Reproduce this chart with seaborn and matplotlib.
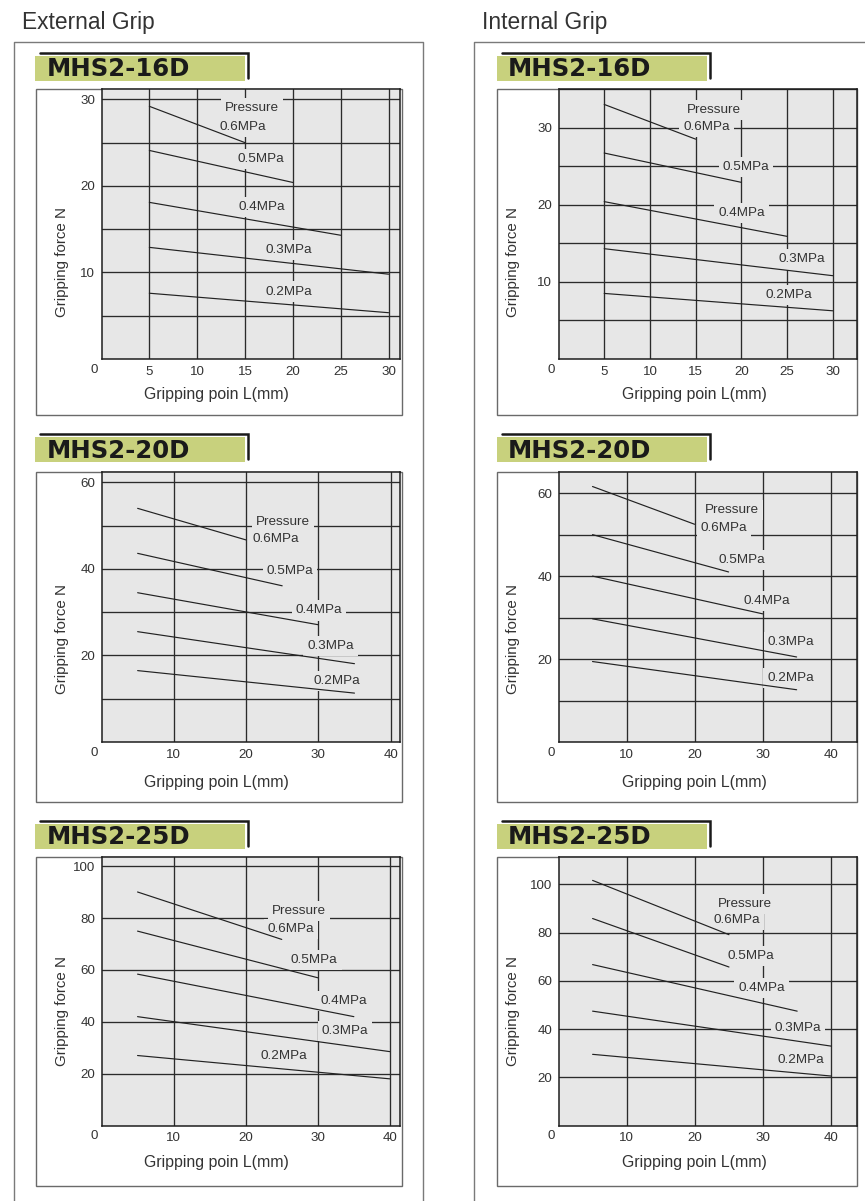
import matplotlib
matplotlib.use("Agg")
import matplotlib.pyplot as plt
from matplotlib.patches import Rectangle
from matplotlib.lines import Line2D
from matplotlib.ticker import FixedLocator
import pandas as pd
import seaborn as sns

sns.set_style("white")
plt.rcParams["font.family"] = ["Liberation Sans", "DejaVu Sans"]

# ---------------------------------------------------------------- data
pressures = ["0.6MPa", "0.5MPa", "0.4MPa", "0.3MPa", "0.2MPa"]
grip_start = 5  # every curve starts at L = 5 mm

# MHS2-16D
ext16_x_end = [15, 20, 25, 30, 30]
ext16_f_start = [29.2, 24.1, 18.1, 12.9, 7.6]
ext16_f_end = [25.0, 20.4, 14.3, 9.8, 5.35]
int16_x_end = [15, 20, 25, 30, 30]
int16_f_start = [33.0, 26.7, 20.4, 14.3, 8.5]
int16_f_end = [28.5, 22.9, 15.9, 10.8, 6.25]

# MHS2-20D
ext20_x_end = [20, 25, 30, 35, 35]
ext20_f_start = [54.0, 43.6, 34.5, 25.5, 16.5]
ext20_f_end = [46.7, 36.1, 27.1, 18.1, 11.3]
int20_x_end = [20, 25, 30, 35, 35]
int20_f_start = [61.6, 50.0, 40.0, 29.7, 19.4]
int20_f_end = [52.5, 41.0, 30.9, 20.5, 12.6]

# MHS2-25D
ext25_x_end = [25, 30, 35, 40, 40]
ext25_f_start = [90.1, 75.0, 58.4, 42.0, 27.0]
ext25_f_end = [71.8, 57.0, 42.0, 28.5, 18.0]
int25_x_end = [25, 25, 35, 40, 40]
int25_f_start = [101.6, 85.8, 66.7, 47.4, 29.5]
int25_f_end = [79.1, 65.7, 47.4, 32.9, 20.5]

models = ["MHS2-16D", "MHS2-20D", "MHS2-25D"]
grips = ["External Grip", "Internal Grip"]

x_ticks_16 = [5, 10, 15, 20, 25, 30]
x_ticks_20 = [10, 20, 30, 40]
x_ticks_25 = [10, 20, 30, 40]
y_ticks_16 = [10, 20, 30]
y_ticks_20 = [20, 40, 60]
y_ticks_25 = [20, 40, 60, 80, 100]

# ---------------------------------------------------------------- layout (pixels)
W, H = 865, 1201
fig = plt.figure(figsize=(W / 100, H / 100), dpi=100)
fig.patch.set_facecolor("white")


def fx(x):
    return x / W


def fy(y):
    return 1 - y / H


GREEN = "#c8d17d"
PANEL_BG = "#e7e7e7"
INK = "#222222"
TXT = "#333333"

col_frame_x = [(36, 402), (497, 857)]
col_axes_x = [(101.5, 400), (558.5, 856.5)]
col_badge = [dict(g0=35, g1=245, l0=40, l1=248, tx=47),
             dict(g0=497, g1=707, l0=502, l1=709.5, tx=507.5)]
col_ylabel_x = [62, 513]
col_xlabel_x = [216, 694]
row_badge_top = [53, 434, 821]
row_frame_y = [(89, 415), (472, 802), (857, 1186)]
row_axes_bottom = [359, 742, 1125.5]
row_ylabel_y = [262, 639, 1011]
row_xlabel_y = [395, 783, 1162]

panels = {
    (0, 0): dict(x_end=ext16_x_end, f0=ext16_f_start, f1=ext16_f_end, xlim=31.2, ylim=31.2,
                 xt=x_ticks_16, yt=y_ticks_16, ystep=5,
                 lab=[(15.7, 29.0), (14.8, 26.8), (16.6, 23.1), (16.8, 17.6), (19.6, 12.6), (19.6, 7.8)]),
    (0, 1): dict(x_end=int16_x_end, f0=int16_f_start, f1=int16_f_end, xlim=32.6, ylim=35.0,
                 xt=x_ticks_16, yt=y_ticks_16, ystep=5,
                 lab=[(17.0, 32.3), (16.2, 30.05), (20.5, 24.9), (20.0, 18.9), (26.6, 12.9), (25.2, 8.3)]),
    (1, 0): dict(x_end=ext20_x_end, f0=ext20_f_start, f1=ext20_f_end, xlim=41.3, ylim=62.4,
                 xt=x_ticks_20, yt=y_ticks_20, ystep=10,
                 lab=[(25.1, 50.9), (24.1, 47.0), (26.1, 39.6), (30.1, 30.4), (31.7, 22.1), (32.6, 14.2)]),
    (1, 1): dict(x_end=int20_x_end, f0=int20_f_start, f1=int20_f_end, xlim=43.8, ylim=65.1,
                 xt=x_ticks_20, yt=y_ticks_20, ystep=10,
                 lab=[(25.5, 55.9), (24.3, 51.5), (26.9, 43.8), (30.6, 34.1), (34.2, 24.0), (34.1, 15.5)]),
    (2, 0): dict(x_end=ext25_x_end, f0=ext25_f_start, f1=ext25_f_end, xlim=41.4, ylim=103.6,
                 xt=x_ticks_25, yt=y_ticks_25, ystep=20,
                 lab=[(27.4, 82.8), (26.3, 75.7), (29.5, 63.8), (33.6, 48.0), (33.75, 36.5), (25.3, 27.0)]),
    (2, 1): dict(x_end=int25_x_end, f0=int25_f_start, f1=int25_f_end, xlim=43.7, ylim=111.3,
                 xt=x_ticks_25, yt=y_ticks_25, ystep=20,
                 lab=[(27.3, 92.0), (26.2, 85.1), (28.2, 70.1), (29.8, 57.0), (35.1, 40.4), (35.5, 27.0)]),
}

# ---------------------------------------------------------------- column boxes and headings
for c, (x_left, x_right) in enumerate([(14, 423), (474, 880)]):
    fig.add_artist(Line2D([fx(x_left), fx(x_left), fx(x_right), fx(x_right)],
                          [fy(H + 2), fy(42), fy(42), fy(H + 2)],
                          color="#7a7a7a", lw=1.0, transform=fig.transFigure))
    fig.text(fx([22, 481.5][c]), fy(29), grips[c], fontsize=16.4, color=TXT,
             va="baseline", ha="left")


def curves_frame(x_end, f_start, f_end):
    rows = []
    for p, xe, fs, fe in zip(pressures, x_end, f_start, f_end):
        rows.append({"pressure": p, "L": grip_start, "force": fs})
        rows.append({"pressure": p, "L": xe, "force": fe})
    return pd.DataFrame(rows)


for (r, c), spec in panels.items():
    fx0, fx1 = col_frame_x[c]
    fy0, fy1 = row_frame_y[r]
    # white chart frame
    fig.add_artist(Rectangle((fx(fx0), fy(fy1)), (fx1 - fx0) / W, (fy1 - fy0) / H,
                             transform=fig.transFigure, facecolor="white",
                             edgecolor="#6a6a6a", lw=1.0, zorder=0))
    # model badge
    b = col_badge[c]
    top = row_badge_top[r]
    fig.add_artist(Rectangle((fx(b["g0"]), fy(top + 28)), (b["g1"] - b["g0"]) / W, 25 / H,
                             transform=fig.transFigure, facecolor=GREEN, edgecolor="none",
                             zorder=0))
    fig.add_artist(Line2D([fx(b["l0"]), fx(b["l1"]), fx(b["l1"])],
                          [fy(top), fy(top), fy(top + 25)],
                          color="#1a1a1a", lw=1.8, transform=fig.transFigure,
                          solid_joinstyle="miter"))
    fig.text(fx(b["tx"]), fy(top + 23.5), models[r], fontsize=17.6, fontweight="bold",
             family="DejaVu Sans", color="#1a1a1a", va="baseline", ha="left")

    # plotting area
    ax0, ax1 = col_axes_x[c]
    ay0, ay1 = fy0, row_axes_bottom[r]
    ax = fig.add_axes([fx(ax0), fy(ay1), (ax1 - ax0) / W, (ay1 - ay0) / H])
    ax.set_facecolor(PANEL_BG)
    ax.set_axisbelow(True)

    df = curves_frame(spec["x_end"], spec["f0"], spec["f1"])
    sns.lineplot(data=df, x="L", y="force", hue="pressure", palette=[INK] * len(pressures),
                 legend=False, ax=ax, lw=0.85, estimator=None, zorder=3)

    ax.set_xlim(0, spec["xlim"])
    ax.set_ylim(0, spec["ylim"])
    ax.xaxis.set_major_locator(FixedLocator(spec["xt"]))
    ax.set_xticklabels([str(v) for v in spec["xt"]])
    ax.yaxis.set_major_locator(FixedLocator(spec["yt"]))
    ax.set_yticklabels([str(v) for v in spec["yt"]])
    step = spec["ystep"]
    minor_y = [v for v in range(step, int(spec["ylim"]) + 1, step) if v not in spec["yt"]]
    ax.yaxis.set_minor_locator(FixedLocator(minor_y))
    ax.grid(True, which="both", color="#2b2b2b", lw=0.95)
    ax.tick_params(axis="both", which="both", length=0, labelsize=9.6, colors=TXT)
    ax.tick_params(axis="x", pad=4.8)
    ax.tick_params(axis="y", pad=4.6)
    for s in ax.spines.values():
        s.set_color("#1e1e1e")
        s.set_linewidth(1.1)
        s.set_visible(True)

    ax.annotate("0", xy=(0, 0), xycoords="data", xytext=(-5.4, -7.9), textcoords="offset points",
                ha="center", va="center", fontsize=9.6, color=TXT, annotation_clip=False)

    ax.set_xlabel("Gripping poin L(mm)", fontsize=11.4, color=TXT)
    ax.set_ylabel("Gripping force N", fontsize=10.9, color=TXT)
    ax.xaxis.set_label_coords(fx(col_xlabel_x[c]), fy(row_xlabel_y[r]), transform=fig.transFigure)
    ax.xaxis.label.set_va("center")
    ax.yaxis.set_label_coords(fx(col_ylabel_x[c]), fy(row_ylabel_y[r]), transform=fig.transFigure)
    ax.yaxis.label.set_va("center")

    box = dict(boxstyle="square,pad=0.3", facecolor=PANEL_BG, edgecolor="none")
    for text, (lx, ly) in zip(["Pressure"] + pressures, spec["lab"]):
        ax.text(lx, ly, text, ha="center", va="center", fontsize=9.7, color=TXT,
                bbox=box, zorder=2)

fig.savefig("out.png", dpi=100, facecolor="white")
